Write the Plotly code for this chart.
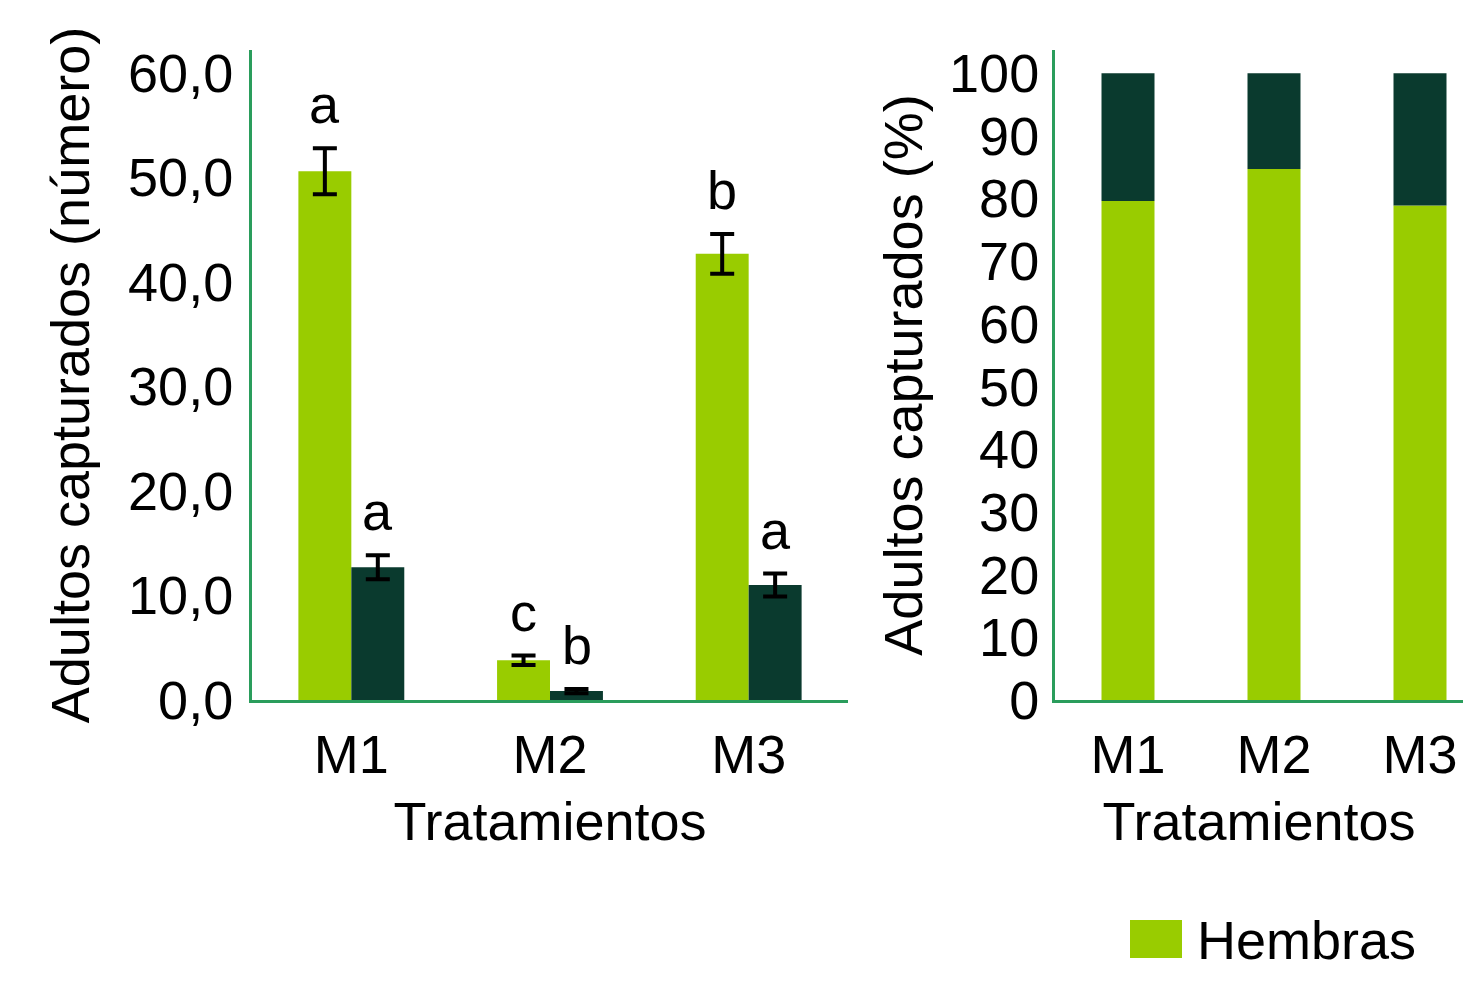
import plotly.graph_objects as go

categorias = ["M1", "M2", "M3"]
hembras = [50.6, 3.8, 42.7]
hembras_err = [2.2, 0.45, 1.9]
machos = [12.7, 0.85, 11.0]
machos_err = [1.15, 0.2, 1.1]
letras_hembras = ["a", "c", "b"]
letras_machos = ["a", "b", "a"]
hembras_pct = [79.6, 84.7, 78.9]
machos_pct = [20.4, 15.3, 21.1]
y1_tickvals = [0, 10, 20, 30, 40, 50, 60]
y1_ticktext = ["0,0", "10,0", "20,0", "30,0", "40,0", "50,0", "60,0"]
y2_tickvals = list(range(0, 101, 10))

VERDE = "#99CC00"
OSCURO = "#0A3A2E"
EJE = "#2A9D5C"
FS = 54
OFF = 8  # page body margin
W, H = 1471 - 2 * OFF, 983 - 2 * OFF  # fit inside the visible page area


def px(x):
    return (x - OFF) / W


def py(y):
    return 1 - (y - OFF) / H


# right panel geometry: category spacing (px) and bar width chosen so M3 stays visible
SPACING2 = 146
BARW2 = 53 / SPACING2

fig = go.Figure()
fig.add_trace(go.Bar(x=categorias, y=hembras, name="Hembras", marker_color=VERDE, marker_line_width=0,
                     offsetgroup="h", xaxis="x", yaxis="y",
                     error_y=dict(type="data", array=hembras_err, color="black", thickness=4, width=12)))
fig.add_trace(go.Bar(x=categorias, y=machos, name="Machos", marker_color=OSCURO, marker_line_width=0,
                     offsetgroup="m", xaxis="x", yaxis="y",
                     error_y=dict(type="data", array=machos_err, color="black", thickness=4, width=12)))
fig.add_trace(go.Bar(x=categorias, y=hembras_pct, name="Hembras", marker_color=VERDE, marker_line_width=0,
                     width=BARW2, offset=-BARW2 / 2, xaxis="x2", yaxis="y2"))
fig.add_trace(go.Bar(x=categorias, y=machos_pct, base=hembras_pct, name="Machos", marker_color=OSCURO,
                     marker_line_width=0, width=BARW2, offset=-BARW2 / 2, xaxis="x2", yaxis="y2"))

annotations = []
for c, v, e, t in zip(categorias, hembras, hembras_err, letras_hembras):
    annotations.append(dict(x=c, y=v + e, xref="x", yref="y", text=t, showarrow=False,
                            xshift=-26.5, yshift=12, yanchor="bottom", font=dict(size=FS)))
for c, v, e, t in zip(categorias, machos, machos_err, letras_machos):
    annotations.append(dict(x=c, y=v + e, xref="x", yref="y", text=t, showarrow=False,
                            xshift=26.5, yshift=12, yanchor="bottom", font=dict(size=FS)))
# legend (drawn manually to match the large swatch)
annotations.append(dict(x=px(1195), y=py(940), xref="paper", yref="paper", text="Hembras",
                        showarrow=False, xanchor="left", yanchor="middle", font=dict(size=FS)))

shapes = [dict(type="rect", xref="paper", yref="paper", x0=px(1130), x1=px(1182),
               y0=py(958), y1=py(920), fillcolor=VERDE, line=dict(width=0))]

axis_common = dict(showgrid=False, zeroline=False, showline=True, linecolor=EJE, linewidth=3,
                   ticks="", tickfont=dict(size=FS, color="black"), automargin=False)

right_px = (W + OFF) - 1055
fig.update_layout(
    width=W, height=H,
    margin=dict(l=0, r=0, t=0, b=0),
    paper_bgcolor="white", plot_bgcolor="white",
    font=dict(family="Liberation Sans, Arial, sans-serif", size=FS, color="black"),
    barmode="group", bargap=0.467, bargroupgap=0,
    showlegend=False,
    annotations=annotations, shapes=shapes,
    xaxis=dict(domain=[px(252), px(848)], range=[-0.5, 2.5], anchor="y",
               title=dict(text="Tratamientos", standoff=20, font=dict(size=FS)),
               ticklabelstandoff=5, **axis_common),
    yaxis=dict(domain=[py(700), py(50)], range=[0, 62.2], anchor="x",
               tickvals=y1_tickvals, ticktext=y1_ticktext,
               title=dict(text="Adultos capturados (número)", standoff=22, font=dict(size=FS)),
               ticklabelstandoff=5, **axis_common),
    xaxis2=dict(domain=[px(1055), 1.0], range=[-0.5, -0.5 + right_px / SPACING2], anchor="y2",
                title=dict(text="Tratamientos", standoff=20, font=dict(size=FS)),
                ticklabelstandoff=5, **axis_common),
    yaxis2=dict(domain=[py(700), py(50)], range=[0, 103.7], anchor="x2",
                tickvals=y2_tickvals,
                title=dict(text="Adultos capturados (%)", standoff=10, font=dict(size=FS)),
                ticklabelstandoff=2, **axis_common),
)

fig.write_html("out.html")
